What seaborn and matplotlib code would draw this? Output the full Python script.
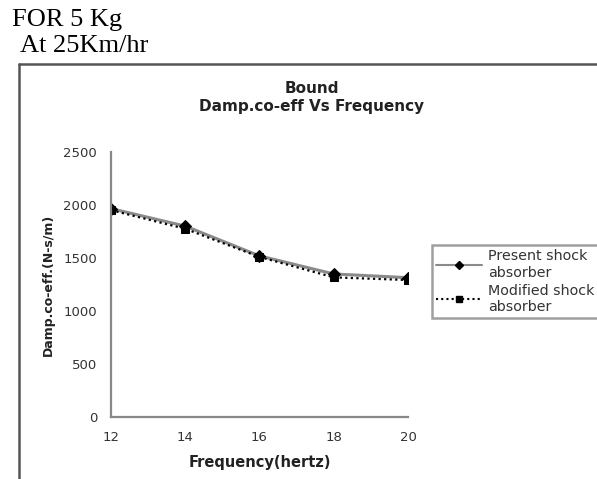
import matplotlib
matplotlib.use("Agg")
import matplotlib.pyplot as plt
import seaborn as sns
import pandas as pd
from matplotlib.lines import Line2D

frequency = [12, 14, 16, 18, 20]
present = [1965, 1800, 1520, 1350, 1315]
modified = [1950, 1775, 1510, 1318, 1293]
series_names = ["Present shock\nabsorber", "Modified shock\nabsorber"]
y_ticks = [0, 500, 1000, 1500, 2000, 2500]

sns.set_style("white")
plt.rcParams['font.family'] = ['DejaVu Sans']

fig = plt.figure(figsize=(5.97, 4.79), dpi=100)
ax = fig.add_axes([0.1859, 0.1284, 0.4975, 0.5549])

df_p = pd.DataFrame({"f": frequency, "v": present})
df_m = pd.DataFrame({"f": frequency, "v": modified})

sns.lineplot(data=df_p, x="f", y="v", ax=ax, color="#8a8a8a", lw=2.2,
             marker="D", markersize=6, markerfacecolor="black",
             markeredgecolor="black", label=series_names[0], legend=False)
sns.lineplot(data=df_m, x="f", y="v", ax=ax, color="black", lw=1.6,
             linestyle=(0, (1, 1.5)), marker="s", markersize=6,
             markerfacecolor="black", markeredgecolor="black",
             label=series_names[1], legend=False)

ax.set_xlim(12, 20)
ax.set_ylim(0, 2500)
ax.set_xticks(frequency)
ax.set_yticks(y_ticks)
ax.tick_params(axis="both", direction="out", length=4, width=1.3,
               color="#888888", labelsize=9.5, labelcolor="#333333")
ax.tick_params(axis="y", pad=6)
ax.tick_params(axis="x", pad=6)
for s in ["top", "right"]:
    ax.spines[s].set_visible(False)
for s in ["left", "bottom"]:
    ax.spines[s].set_color("#888888")
    ax.spines[s].set_linewidth(1.6)

ax.set_xlabel("Frequency(hertz)", fontsize=10.5, fontweight="bold", color="#222222", labelpad=8)
ax.set_ylabel("Damp.co-eff.(N-s/m)", fontsize=9, fontweight="bold", color="#222222", labelpad=6)

fig.text(0.5226, 0.797, "Bound\nDamp.co-eff Vs Frequency", ha="center", va="center",
         fontsize=11, fontweight="bold", color="#222222", linespacing=1.25)

handles = [
    Line2D([], [], color="#8a8a8a", lw=1.5, marker="D", markersize=4,
           markerfacecolor="black", markeredgecolor="black"),
    Line2D([], [], color="black", lw=1.5, linestyle=(0, (1, 1.5)), marker="s",
           markersize=4.5, markerfacecolor="black", markeredgecolor="black"),
]
leg = fig.legend(handles, series_names, loc="upper left",
                 bbox_to_anchor=(0.7236, 0.4885), fontsize=10.3, frameon=True,
                 fancybox=False, edgecolor="#888888", handlelength=3.2,
                 handletextpad=0.4, borderpad=0.3, borderaxespad=0,
                 labelspacing=0.3)
leg.get_frame().set_linewidth(1.8)
for t in leg.get_texts():
    t.set_color("#333333")
    t.set_linespacing(1.2)

# outer chart border (left and top edges visible)
fig.add_artist(Line2D([0.031, 0.031], [0.0, 0.867], transform=fig.transFigure,
                      color="#555555", lw=1.8))
fig.add_artist(Line2D([0.031, 1.0], [0.867, 0.867], transform=fig.transFigure,
                      color="#555555", lw=1.8))

fig.text(0.020, 1 - 26 / 479, "FOR 5 Kg", family=["Liberation Serif", "DejaVu Serif"],
         fontsize=19, ha="left", va="baseline", color="black")
fig.text(0.033, 1 - 52 / 479, "At 25Km/hr", family=["Liberation Serif", "DejaVu Serif"],
         fontsize=19, ha="left", va="baseline", color="black")

fig.savefig("out.png", dpi=100)
